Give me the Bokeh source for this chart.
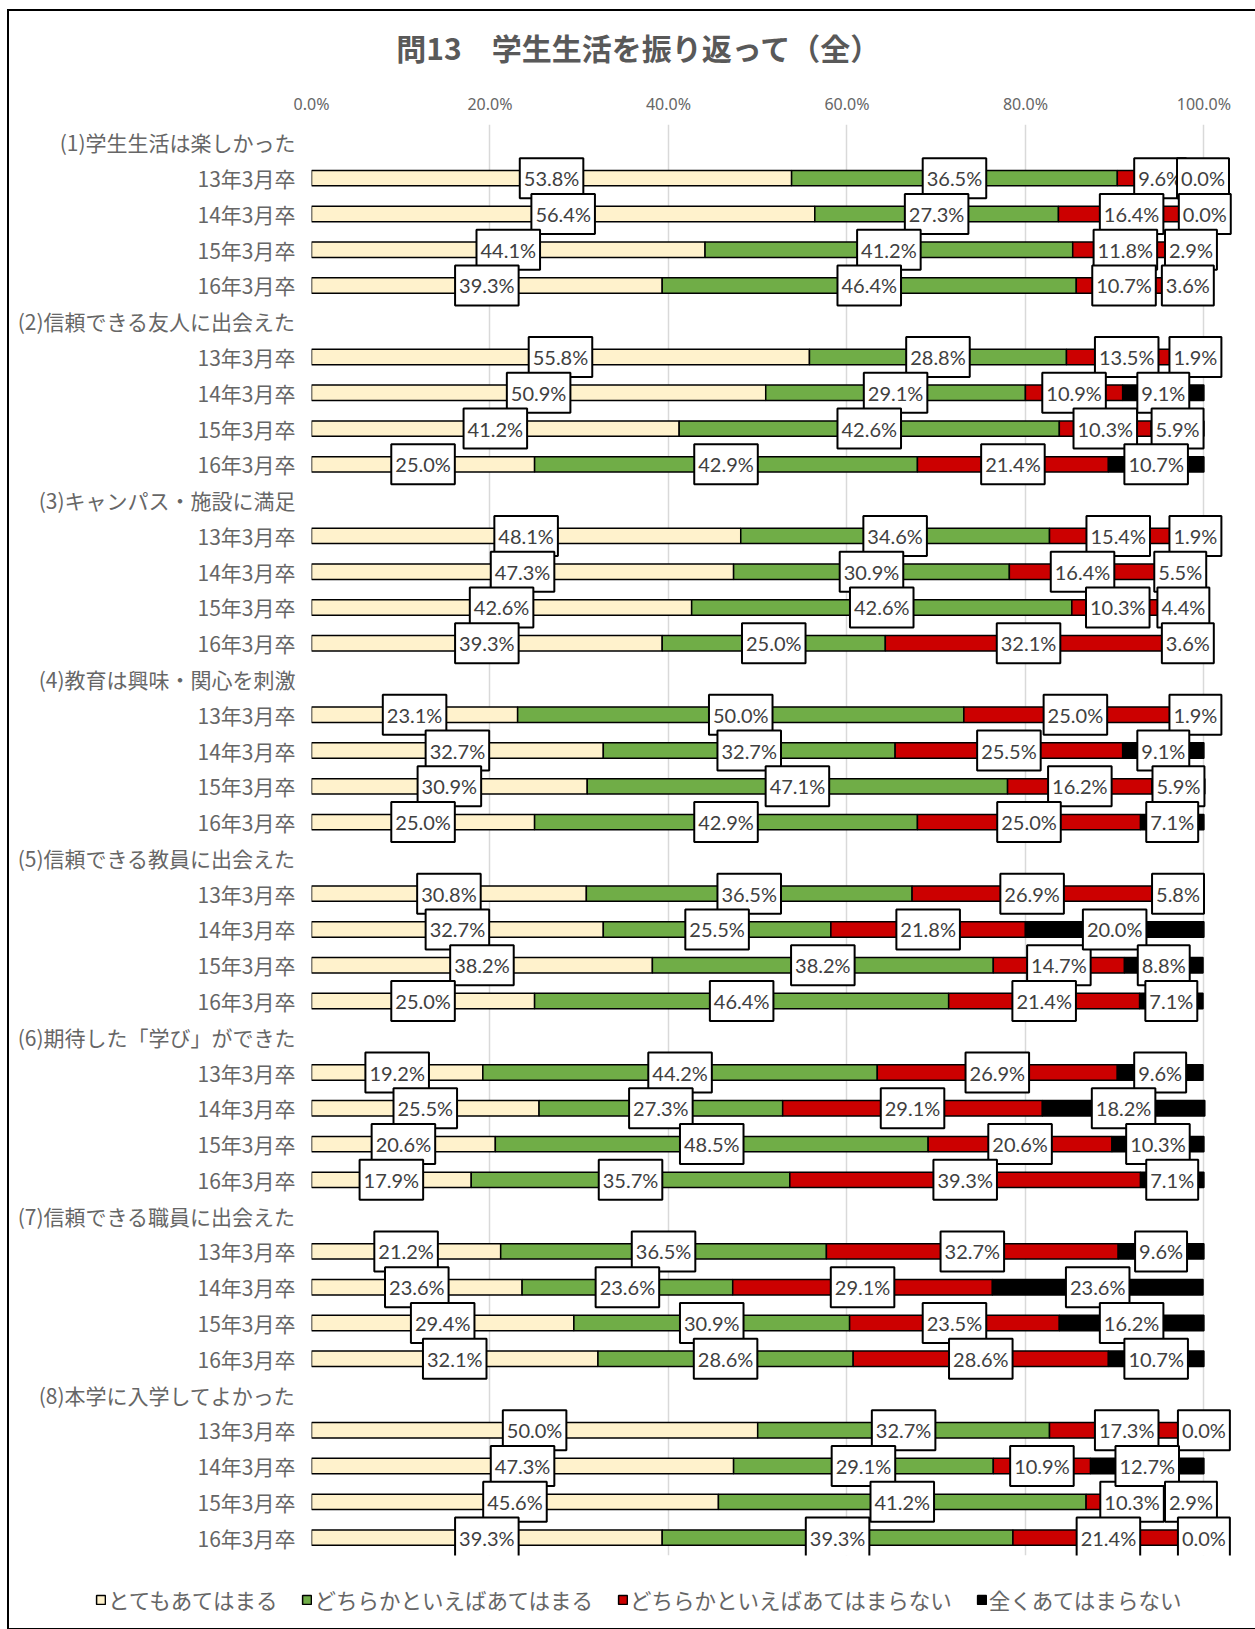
from bokeh.plotting import figure
from bokeh.layouts import column
from bokeh.models import (ColumnDataSource, Range1d, FixedTicker, PrintfTickFormatter,
                          Legend, LegendItem, Label)
from bokeh.core.properties import value
from bokeh.embed import file_html
from bokeh.resources import INLINE

title_text = "問13　学生生活を振り返って（全）"

groups = ["(1)学生生活は楽しかった", "(2)信頼できる友人に出会えた", "(3)キャンパス・施設に満足",
          "(4)教育は興味・関心を刺激", "(5)信頼できる教員に出会えた", "(6)期待した「学び」ができた",
          "(7)信頼できる職員に出会えた", "(8)本学に入学してよかった"]
years = ["13年3月卒", "14年3月卒", "15年3月卒", "16年3月卒"]

series_names = ["とてもあてはまる", "どちらかといえばあてはまる",
                "どちらかといえばあてはまらない", "全くあてはまらない"]
series_colors = ["#FFF2CC", "#70AD47", "#CC0000", "#000000"]

very_true = [53.8, 56.4, 44.1, 39.3,
             55.8, 50.9, 41.2, 25.0,
             48.1, 47.3, 42.6, 39.3,
             23.1, 32.7, 30.9, 25.0,
             30.8, 32.7, 38.2, 25.0,
             19.2, 25.5, 20.6, 17.9,
             21.2, 23.6, 29.4, 32.1,
             50.0, 47.3, 45.6, 39.3]
somewhat_true = [36.5, 27.3, 41.2, 46.4,
                 28.8, 29.1, 42.6, 42.9,
                 34.6, 30.9, 42.6, 25.0,
                 50.0, 32.7, 47.1, 42.9,
                 36.5, 25.5, 38.2, 46.4,
                 44.2, 27.3, 48.5, 35.7,
                 36.5, 23.6, 30.9, 28.6,
                 32.7, 29.1, 41.2, 39.3]
somewhat_not = [9.6, 16.4, 11.8, 10.7,
                13.5, 10.9, 10.3, 21.4,
                15.4, 16.4, 10.3, 32.1,
                25.0, 25.5, 16.2, 25.0,
                26.9, 21.8, 14.7, 21.4,
                26.9, 29.1, 20.6, 39.3,
                32.7, 29.1, 23.5, 28.6,
                17.3, 10.9, 10.3, 21.4]
not_at_all = [0.0, 0.0, 2.9, 3.6,
              1.9, 9.1, 5.9, 10.7,
              1.9, 5.5, 4.4, 3.6,
              1.9, 9.1, 5.9, 7.1,
              5.8, 20.0, 8.8, 7.1,
              9.6, 18.2, 10.3, 7.1,
              9.6, 23.6, 16.2, 10.7,
              0.0, 12.7, 2.9, 0.0]

x_ticks = [0, 20, 40, 60, 80, 100]

series_values = [very_true, somewhat_true, somewhat_not, not_at_all]

row_labels = []
bar_rows = []
for g, name in enumerate(groups):
    row_labels.append(name)
    for k, yr in enumerate(years):
        row_labels.append(yr)
        bar_rows.append(-(5 * g + 1 + k))
n_rows = len(row_labels)

FONT_JP = "Noto Sans CJK JP"
GRAY = "#666666"

W = 1246
TH = 76            # title strip height
H = 1482           # main chart height
LH = 60            # legend strip height
FRAME_L, FRAME_T, FRAME_B = 302, 37, 1468
PX_PER_PCT = 8.924
x_end = (W - FRAME_L) / PX_PER_PCT

# ---- title strip ----
tp = figure(width=W, height=TH, output_backend="svg", toolbar_location=None,
            x_range=Range1d(0, 1), y_range=Range1d(0, 1), min_border=0, frame_align=False)
tp.axis.visible = False
tp.grid.visible = False
tp.outline_line_color = None
tp.border_fill_color = "white"
tp.add_layout(Label(x=W / 2 + 6.5, y=TH / 2 + 3, x_units="screen", y_units="screen",
                    text=title_text, text_align="center", text_baseline="middle",
                    text_font=FONT_JP, text_font_size="30px", text_font_style="bold",
                    text_color="#595959"))

# ---- main chart ----
p = figure(width=W, height=H, output_backend="svg", toolbar_location=None,
           x_range=Range1d(0, x_end), y_range=Range1d(-(n_rows - 0.5), 0.5),
           x_axis_location="above",
           min_border_left=FRAME_L, min_border_right=0, min_border_top=FRAME_T,
           min_border_bottom=H - FRAME_B)
p.outline_line_color = None
p.background_fill_color = "white"
p.border_fill_color = "white"

p.xaxis.ticker = FixedTicker(ticks=x_ticks)
p.xaxis.formatter = PrintfTickFormatter(format="%.1f%%")
p.xaxis.axis_line_color = None
p.xaxis.major_tick_line_color = None
p.xaxis.minor_tick_line_color = None
p.xaxis.major_label_text_font = "Noto Sans"
p.xaxis.major_label_text_font_size = "16px"
p.xaxis.major_label_text_color = GRAY
p.xaxis.major_label_standoff = 4

p.yaxis.ticker = FixedTicker(ticks=[-i for i in range(n_rows)])
p.yaxis.major_label_overrides = {-i: lab for i, lab in enumerate(row_labels)}
p.yaxis.axis_line_color = None
p.yaxis.major_tick_line_color = None
p.yaxis.minor_tick_line_color = None
p.yaxis.major_label_text_font = FONT_JP
p.yaxis.major_label_text_font_size = "21px"
p.yaxis.major_label_text_color = GRAY
p.yaxis.major_label_standoff = 10

p.xgrid.grid_line_color = "#D9D9D9"
p.xgrid.grid_line_width = 1.5
p.ygrid.grid_line_color = None

sources = []
starts = [0.0] * len(bar_rows)
label_x, label_y, label_t = [], [], []
for s, vals in enumerate(series_values):
    lefts = list(starts)
    rights = [a + b for a, b in zip(starts, vals)]
    src = ColumnDataSource(dict(y=bar_rows, left=lefts, right=rights))
    sources.append(src)
    p.hbar(y="y", left="left", right="right", height=0.43, source=src,
           fill_color=series_colors[s], line_color="#000000", line_width=1.5)
    for i, v in enumerate(vals):
        label_x.append(lefts[i] + v / 2.0)
        label_y.append(bar_rows[i])
        label_t.append("%.1f%%" % v)
    starts = rights

lab_src = ColumnDataSource(dict(x=label_x, y=label_y, t=label_t))
p.text(x="x", y="y", text="t", source=lab_src, text_align="center", text_baseline="middle",
       text_font=value("Lato"), text_font_size="20px", text_color="#404040",
       background_fill_color="white", border_line_color="#000000", border_line_width=2,
       padding=(4, 8))

# ---- legend strip (same series sources; bars lie outside its view) ----
lp = figure(width=W, height=LH, output_backend="svg", toolbar_location=None,
            x_range=Range1d(0, 1), y_range=Range1d(0, 1), min_border=0,
            frame_align=False)
lp.axis.visible = False
lp.grid.visible = False
lp.outline_line_color = None
lp.border_fill_color = "white"
items = []
for s in range(4):
    r = lp.hbar(y="y", left="left", right="right", height=0.43, source=sources[s],
                fill_color=series_colors[s], line_color="#000000", line_width=1.5)
    items.append(LegendItem(label=series_names[s], renderers=[r]))
legend = Legend(items=items, orientation="horizontal", location=(86, 14))
legend.background_fill_alpha = 0
legend.border_line_color = None
legend.padding = 0
legend.margin = 0
legend.spacing = 24
legend.label_standoff = 2
legend.glyph_width = 11
legend.glyph_height = 11
legend.label_text_font = FONT_JP
legend.label_text_font_size = "21.5px"
legend.label_text_color = GRAY
lp.add_layout(legend)

layout = column(tp, p, lp)
layout.styles = {"margin-left": "7px", "margin-top": "9px",
                 "border-left": "2px solid #000000", "border-top": "2px solid #000000",
                 "border-right": "none", "border-bottom": "none"}

open("out.html", "w").write(file_html(layout, INLINE))
